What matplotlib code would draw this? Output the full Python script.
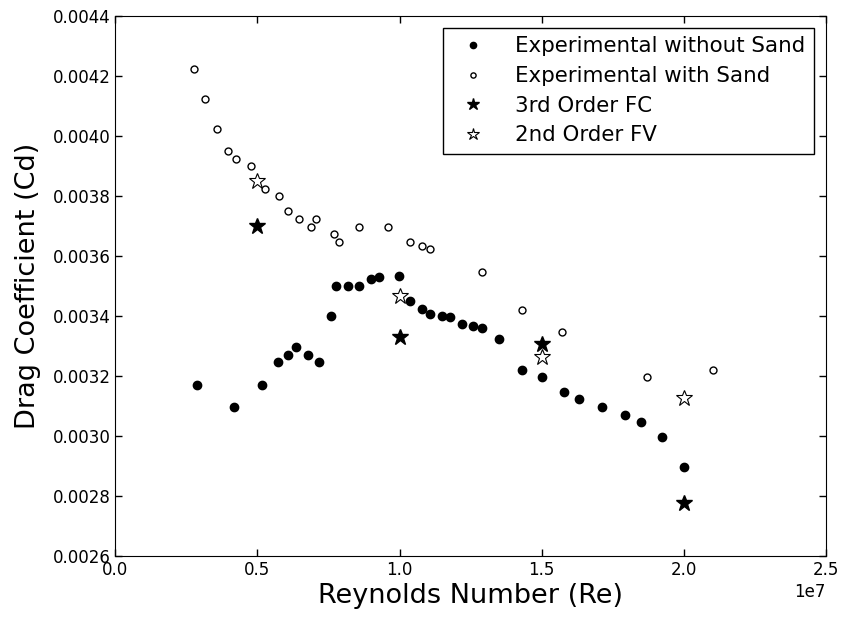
import numpy as np
import matplotlib
matplotlib.use('Agg')
import matplotlib.pyplot as plt

# Experimental without sand (filled circles)
re_plain = [0.286e7, 0.416e7, 0.516e7, 0.572e7, 0.607e7, 0.637e7, 0.678e7, 0.718e7,
            0.759e7, 0.778e7, 0.818e7, 0.858e7, 0.899e7, 0.929e7, 0.998e7, 1.038e7,
            1.079e7, 1.108e7, 1.150e7, 1.179e7, 1.219e7, 1.259e7, 1.289e7, 1.349e7,
            1.430e7, 1.501e7, 1.580e7, 1.631e7, 1.711e7, 1.792e7, 1.851e7, 1.922e7,
            2.002e7]
cd_plain = [0.003172, 0.003098, 0.003172, 0.003248, 0.003272, 0.003298, 0.003272, 0.003248,
            0.003399, 0.003500, 0.003500, 0.003500, 0.003524, 0.003530, 0.003534, 0.003449,
            0.003423, 0.003408, 0.003402, 0.003397, 0.003373, 0.003367, 0.003362, 0.003323,
            0.003222, 0.003198, 0.003148, 0.003123, 0.003098, 0.003072, 0.003048, 0.002998,
            0.002898]

# Experimental with sand (open circles)
re_sand = [0.276e7, 0.316e7, 0.356e7, 0.397e7, 0.425e7, 0.476e7, 0.526e7, 0.577e7,
           0.607e7, 0.647e7, 0.687e7, 0.707e7, 0.768e7, 0.788e7, 0.858e7, 0.960e7,
           1.038e7, 1.079e7, 1.108e7, 1.289e7, 1.430e7, 1.570e7, 1.871e7, 2.101e7]
cd_sand = [0.004224, 0.004124, 0.004024, 0.003949, 0.003924, 0.003899, 0.003823, 0.003799,
           0.003749, 0.003723, 0.003698, 0.003723, 0.003673, 0.003648, 0.003698, 0.003698,
           0.003648, 0.003633, 0.003623, 0.003548, 0.003422, 0.003347, 0.003197, 0.003221]

# Simulations
re_sim = [0.5e7, 1.0e7, 1.5e7, 2.0e7]
cd_fc3 = [0.003702, 0.003329, 0.003307, 0.002777]
cd_fv2 = [0.003852, 0.003468, 0.003263, 0.003128]

plt.rcParams['font.family'] = ['DejaVu Sans']
plt.rcParams['xtick.direction'] = 'in'
plt.rcParams['ytick.direction'] = 'in'
plt.rcParams['xtick.top'] = True
plt.rcParams['ytick.right'] = True

fig = plt.figure(figsize=(8.48, 6.2), dpi=100)
ax = fig.add_axes([0.136, 0.103, 0.838, 0.871])

ax.plot(re_plain, cd_plain, 'o', color='black', markersize=6, label='Experimental without Sand')
ax.plot(re_sand, cd_sand, 'o', markerfacecolor='white', markeredgecolor='black',
        markeredgewidth=1.0, markersize=5, label='Experimental with Sand')
ax.plot(re_sim, cd_fc3, '*', color='black', markersize=12, label='3rd Order FC')
ax.plot(re_sim, cd_fv2, '*', markerfacecolor='white', markeredgecolor='black',
        markeredgewidth=0.8, markersize=12, label='2nd Order FV')

ax.set_xlim(0, 2.5e7)
ax.set_ylim(0.0026, 0.0044)
ax.set_xticks(np.arange(0, 2.51e7, 0.5e7))
ax.set_yticks(np.arange(0.0026, 0.00441, 0.0002))
ax.set_yticklabels(['%.4f' % v for v in np.arange(0.0026, 0.00441, 0.0002)])
ax.tick_params(labelsize=12, length=5, width=1)
ax.xaxis.get_offset_text().set_fontsize(12)

ax.set_xlabel('Reynolds Number (Re)', fontsize=19.5, labelpad=3)
ax.set_ylabel('Drag Coefficient (Cd)', fontsize=19.5, labelpad=8)

leg = ax.legend(loc='upper right', fontsize=15.4, numpoints=1, markerscale=0.75,
                fancybox=False, framealpha=1, edgecolor='black',
                borderaxespad=0.55, handletextpad=1.0, labelspacing=0.45)
leg.get_frame().set_linewidth(1.0)

fig.savefig('out.png', dpi=100)
